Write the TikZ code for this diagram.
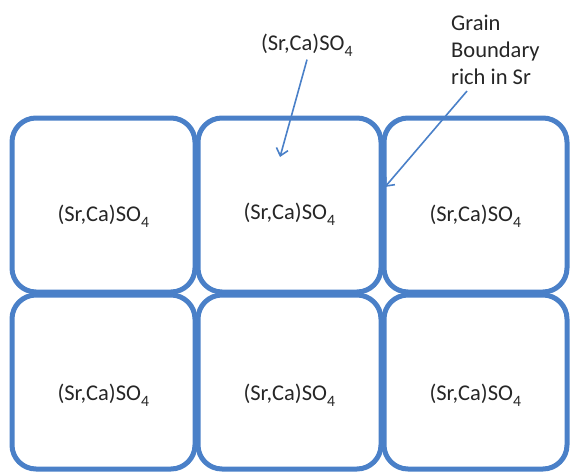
\documentclass[tikz,border=0pt]{standalone}
\usepackage{fontspec}
\setmainfont{Carlito}
\usetikzlibrary{positioning,arrows.meta}
\definecolor{grainblue}{RGB}{74,128,200}
\newcommand{\sulfate}{(Sr,Ca)SO\textsubscript{\raisebox{-0.35ex}{4}}}

\begin{document}
\begin{tikzpicture}[x=1pt,y=-1pt,node distance=3pt]
% Define styles
\tikzstyle{grain} = [rectangle, rounded corners=24pt, minimum width=183pt, minimum height=174pt, outer sep=0pt, draw=grainblue, line width=5pt]
\tikzstyle{phase} = [font=\fontsize{22.5}{27}\selectfont, text=black!85]
\tikzstyle{arrow} = [draw=grainblue, line width=1.6pt, -{Straight Barb[length=7pt,width=12pt]}]

\useasboundingbox (0,0) rectangle (573,472);

% Draw grains
\node (g11) [grain] at (103.5,205) {};
\node (g12) [grain, right=of g11] {};
\node (g13) [grain, right=of g12] {};
\node (g21) [grain, below=of g11] {};
\node (g22) [grain, right=of g21] {};
\node (g23) [grain, right=of g22] {};

% Grain labels
\node (l11) [phase, yshift=-11pt] at (g11) {\sulfate};
\node (l12) [phase, yshift=-9pt] at (g12) {\sulfate};
\node (l13) [phase, yshift=-11pt] at (g13) {\sulfate};
\node (l21) [phase, yshift=-13pt] at (g21) {\sulfate};
\node (l22) [phase, yshift=-13pt] at (g22) {\sulfate};
\node (l23) [phase, yshift=-13pt] at (g23) {\sulfate};

% Callouts
\node (bulk) [phase] at (307,45) {\sulfate};
\node (gb) [phase, align=left, anchor=west, inner sep=0pt] at (451,50) {Grain\\Boundary\\rich in Sr};
\coordinate (bulkend) at (280,157);
\coordinate (gbend) at (385,187);

% Draw arrows
\draw [arrow] (bulk.south) -- (bulkend);
\draw [arrow] ([xshift=16pt,yshift=-6pt]gb.south west) -- (gbend);

\end{tikzpicture}
\end{document}
